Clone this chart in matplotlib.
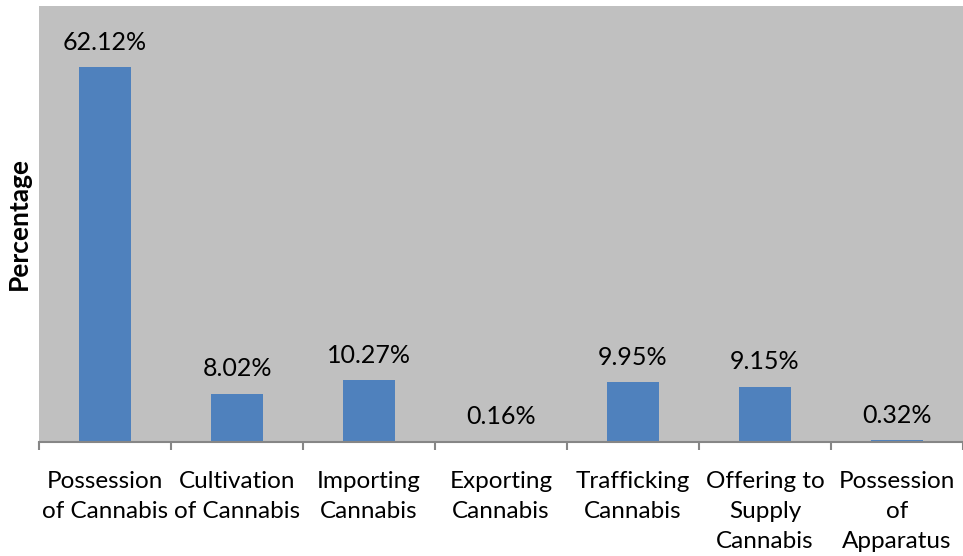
import matplotlib
matplotlib.use("Agg")
import matplotlib.pyplot as plt
import numpy as np

categories = ["Possession\nof Cannabis", "Cultivation\nof Cannabis", "Importing\nCannabis",
              "Exporting\nCannabis", "Trafficking\nCannabis", "Offering to\nSupply\nCannabis",
              "Possession\nof\nApparatus"]
values = [62.12, 8.02, 10.27, 0.16, 9.95, 9.15, 0.32]
labels = ["62.12%", "8.02%", "10.27%", "0.16%", "9.95%", "9.15%", "0.32%"]

plt.rcParams['font.family'] = ['Lato', 'DejaVu Sans']

fig = plt.figure(figsize=(9.63, 5.56), dpi=100)
ax = fig.add_axes([39/963, 1-442/556, 924/963, 436/556])
ax.set_facecolor('#C0C0C0')
x = np.arange(len(categories))
ax.bar(x, values, width=0.4, color='#4F81BD')
for xi, v, lab in zip(x, values, labels):
    ax.text(xi, v + 2.2, lab, ha='center', va='bottom', fontsize=18)
ax.set_xlim(-0.5, len(categories) - 0.5)
ax.set_ylim(0, 72.2)
for s in ['top', 'right', 'left']:
    ax.spines[s].set_visible(False)
ax.spines['bottom'].set_color('#868686')
ax.spines['bottom'].set_linewidth(1.5)
ax.set_yticks([])
ax.set_xticks(np.arange(-0.5, len(categories), 1.0))
ax.set_xticklabels([])
ax.tick_params(axis='x', length=6, color='#868686', width=1.5)
ax.set_xticks(x, minor=True)
ax.set_xticklabels(categories, minor=True, fontsize=17.5, linespacing=1.52, va='top')
ax.tick_params(axis='x', which='minor', length=0, pad=21)
ax.set_ylabel('Percentage', fontsize=19, fontweight='bold', labelpad=6)
fig.savefig('out.png', dpi=100)
